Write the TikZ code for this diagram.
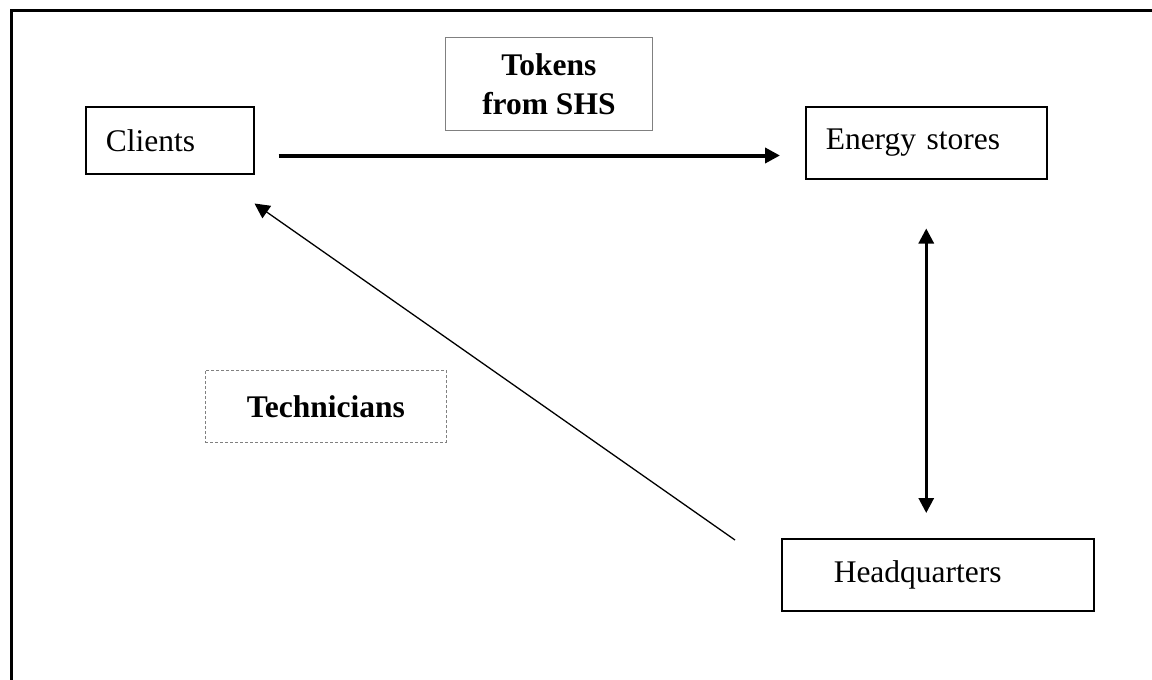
\documentclass[tikz,border=0pt]{standalone}
\usepackage{fontspec}
\setmainfont{Liberation Serif}
\usetikzlibrary{arrows.meta,calc}
\begin{document}
\begin{tikzpicture}[x=1pt,y=-1pt,>={Triangle[length=15pt,width=15pt]},box/.style={draw,line width=1.5pt,inner ysep=0pt,anchor=north west,align=left,font=\fontsize{31.5}{39}\selectfont},tag/.style={draw=gray,line width=0.8pt,inner sep=0pt,anchor=north west,align=center,font=\fontsize{31.5}{39}\selectfont\bfseries},flow/.style={->,line width=4pt},link/.style={<->,line width=3pt},back/.style={->,line width=1.3pt}]
\useasboundingbox (0,0) rectangle (1152,680);
\draw[line width=3pt] (1152,10.5)--(11.5,10.5)--(11.5,680);
\node[box,minimum height=67pt,inner xsep=20pt,text width=128pt] (clients) at (85,106) {Clients};
\node[box,minimum height=72pt,inner xsep=20pt,text width=201pt] (energy) at (805,106) {Energy stores};
\node[box,minimum height=72pt,inner xsep=52pt,text width=208pt] (hq) at (781,538) {Headquarters};
\node[tag,minimum width=207pt,minimum height=93pt] (tokens) at (445,37) {Tokens\\from SHS};
\node[tag,densely dashed,minimum width=241pt,minimum height=72pt] (tech) at (205,370) {Technicians};
\draw[flow] ($(clients.south east)+(24,-19)$) -- ($(energy.south west)+(-25,-24)$);
\draw[link] ($(energy.south)+(0,49)$) -- ($(energy.south |- hq.north)+(0,-25)$);
\draw[back] ($(hq.north west)+(-46,2)$) -- ($(clients.south east)+(0,29)$);
\end{tikzpicture}
\end{document}
